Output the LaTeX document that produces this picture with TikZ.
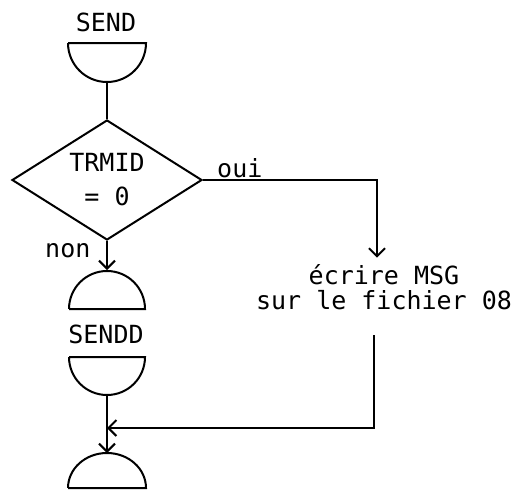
\documentclass[tikz,border=0pt]{standalone}
\usepackage{fontspec}
\newfontfamily\typew{DejaVu Sans Mono}
\usetikzlibrary{arrows.meta,shapes.geometric}

\begin{document}
\begin{tikzpicture}[
x=1pt, y=1pt,
flow/.style={line width=2pt},
arr/.style={flow, -{Straight Barb[length=8pt,width=16pt]}},
txt/.style={font=\typew\fontsize{25}{25}\selectfont, inner sep=0pt},
cond/.style={draw, flow, shape=diamond, aspect=1.6, inner sep=0pt, minimum width=190pt, minimum height=120pt, align=center, font=\typew\fontsize{25}{25}\selectfont}
]
\useasboundingbox (0,0) rectangle (528,-491);
% chord centres of the half circles
\coordinate (bowl1) at (107,-43);
\coordinate (dome1) at (107,-309);
\coordinate (bowl2) at (107,-357);
\coordinate (dome2) at (107,-488);
\coordinate (bowl1-out) at (107,-82);
\coordinate (dome1-in) at (107,-270);
\coordinate (bowl2-out) at (107,-395);
\coordinate (dome2-in) at (107,-453);
\coordinate (merge) at (107,-428);

\draw[flow] (bowl1) ++(-39,0) -- ++(78,0) arc[start angle=0, end angle=-180, radius=39];
\draw[flow] (dome1) ++(-38,0) -- ++(76,0) arc[start angle=0, end angle=180, radius=38];
\draw[flow] (bowl2) ++(-38,0) -- ++(76,0) arc[start angle=0, end angle=-180, radius=38];
\draw[flow] (dome2) ++(-39,0) -- ++(78,0) arc[start angle=0, end angle=180, x radius=39, y radius=35];

\node[txt] (send) at (106,-22) {SEND};
\node[cond] (trmid) at (107,-180) {TRMID\\[9pt]= 0};
\node[txt] (sendd) at (106,-334) {SENDD};
\node[txt, align=center] (ecrire) at (384,-287.5) {écrire MSG\\sur le fichier 08};
\node[txt, anchor=base west] (oui) at (217,-177) {oui};
\node[txt, anchor=base west] (non) at (45,-257) {non};

\draw[flow] (bowl1-out) -- (trmid.north);
\draw[arr] (trmid.south) -- (dome1-in);
\draw[arr, shorten >=7pt] (trmid.east) -| ([xshift=-7pt]ecrire.north);
\draw[arr] ([xshift=-10pt,yshift=-25pt]ecrire.south) |- (merge);
\draw[arr] (bowl2-out) -- (dome2-in);
\end{tikzpicture}
\end{document}
